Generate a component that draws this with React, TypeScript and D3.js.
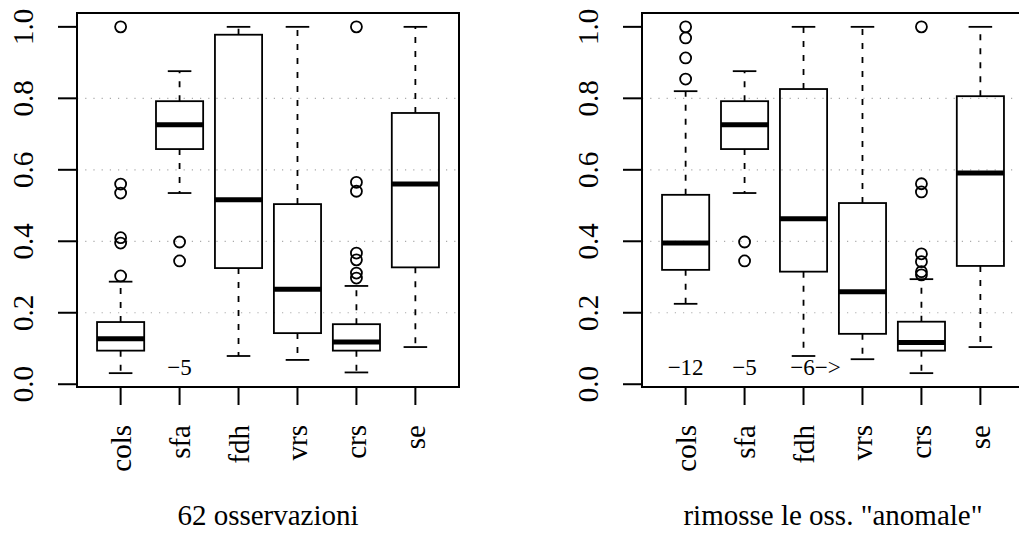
import * as d3 from "d3";

// categorie sull'asse x
const categories = ["cols", "sfa", "fdh", "vrs", "crs", "se"];
const yTicks = [0, 0.2, 0.4, 0.6, 0.8, 1.0];
const gridTicks = [0.2, 0.4, 0.6, 0.8];

// pannello sinistro: 62 osservazioni
const leftLow = [0.031, 0.535, 0.079, 0.068, 0.033, 0.104];
const leftQ1 = [0.094, 0.658, 0.325, 0.143, 0.094, 0.327];
const leftMed = [0.127, 0.726, 0.516, 0.266, 0.118, 0.56];
const leftQ3 = [0.174, 0.792, 0.978, 0.504, 0.168, 0.759];
const leftHigh = [0.287, 0.876, 1.0, 1.0, 0.275, 1.0];
const leftOut = [
  [1.0, 0.56, 0.535, 0.41, 0.395, 0.303],
  [0.398, 0.345],
  [],
  [],
  [1.0, 0.565, 0.54, 0.367, 0.348, 0.311, 0.297],
  [],
];
const leftNotes = [{ cat: "sfa", text: "\u22125", dx: 0 }];

// pannello destro: senza le osservazioni anomale
const rightLow = [0.225, 0.535, 0.079, 0.07, 0.031, 0.104];
const rightQ1 = [0.32, 0.658, 0.315, 0.141, 0.094, 0.331];
const rightMed = [0.395, 0.726, 0.463, 0.259, 0.117, 0.591];
const rightQ3 = [0.53, 0.792, 0.826, 0.507, 0.175, 0.806];
const rightHigh = [0.82, 0.876, 1.0, 1.0, 0.294, 1.0];
const rightOut = [
  [1.0, 0.969, 0.913, 0.854],
  [0.398, 0.345],
  [],
  [],
  [1.0, 0.561, 0.538, 0.365, 0.343, 0.315, 0.306],
  [],
];
const rightNotes = [
  { cat: "cols", text: "\u221212", dx: 0 },
  { cat: "sfa", text: "\u22125", dx: 0 },
  { cat: "fdh", text: "\u22126\u2212>", dx: 12 },
];

const FONT = '"Liberation Serif", "DejaVu Serif", "Times New Roman", Times, serif';

const Panel = ({ left, low, q1, med, q3, high, out, notes, title }) => {
  const top = 13;
  const bottom = 387;
  const w = 382;

  const allVals = [...low, ...high, ...out.flat()];
  const [mn, mx] = d3.extent(allVals);
  const ext = (mx - mn) * 0.04;

  const y = d3.scaleLinear().domain([mn - ext, mx + ext]).range([bottom, top]);
  const x = d3
    .scalePoint()
    .domain(categories)
    .range([left + w * (0.74 / 6.48), left + w * (5.74 / 6.48)]);
  const step = x.step();
  const boxW = step * 0.8;
  const capW = boxW * 0.5;

  return (
    <g>
      {gridTicks.map((t) => (
        <line
          key={"g" + t}
          x1={left}
          x2={left + w}
          y1={y(t)}
          y2={y(t)}
          stroke="#aaa"
          strokeWidth={1.2}
          strokeDasharray="1.2,7"
        />
      ))}
      {categories.map((c, i) => {
        const cx = x(c);
        return (
          <g key={c}>
            <line x1={cx} x2={cx} y1={y(q3[i])} y2={y(high[i])} stroke="#000" strokeWidth={1.8} strokeDasharray="6,8" />
            <line x1={cx} x2={cx} y1={y(q1[i])} y2={y(low[i])} stroke="#000" strokeWidth={1.8} strokeDasharray="6,8" />
            <line x1={cx - capW / 2} x2={cx + capW / 2} y1={y(high[i])} y2={y(high[i])} stroke="#000" strokeWidth={1.8} />
            <line x1={cx - capW / 2} x2={cx + capW / 2} y1={y(low[i])} y2={y(low[i])} stroke="#000" strokeWidth={1.8} />
            <rect
              x={cx - boxW / 2}
              y={y(q3[i])}
              width={boxW}
              height={y(q1[i]) - y(q3[i])}
              fill="none"
              stroke="#000"
              strokeWidth={1.8}
            />
            <line x1={cx - boxW / 2} x2={cx + boxW / 2} y1={y(med[i])} y2={y(med[i])} stroke="#000" strokeWidth={5} />
            {out[i].map((v, k) => (
              <circle key={k} cx={cx} cy={y(v)} r={5.5} fill="none" stroke="#000" strokeWidth={1.8} />
            ))}
          </g>
        );
      })}
      <rect x={left} y={top} width={w} height={bottom - top} fill="none" stroke="#000" strokeWidth={2} />
      {yTicks.map((t) => (
        <g key={"y" + t}>
          <line x1={left - 19} x2={left} y1={y(t)} y2={y(t)} stroke="#000" strokeWidth={2} />
          <text
            transform={`translate(${left - 44},${y(t)}) rotate(-90)`}
            textAnchor="middle"
            style={{ fontFamily: FONT, fontSize: 29 }}
          >
            {t.toFixed(1)}
          </text>
        </g>
      ))}
      {categories.map((c) => (
        <g key={"x" + c}>
          <line x1={x(c)} x2={x(c)} y1={bottom} y2={bottom + 18} stroke="#000" strokeWidth={2} />
          <text
            transform={`translate(${x(c) + 10},${425}) rotate(-90)`}
            textAnchor="end"
            style={{ fontFamily: FONT, fontSize: 29 }}
          >
            {c}
          </text>
        </g>
      ))}
      {notes.map((n) => (
        <text
          key={n.text}
          x={x(n.cat) + n.dx}
          y={375}
          textAnchor="middle"
          style={{ fontFamily: FONT, fontSize: 23 }}
        >
          {n.text}
        </text>
      ))}
      <text x={left + w / 2} y={525} textAnchor="middle" style={{ fontFamily: FONT, fontSize: 29 }}>
        {title}
      </text>
    </g>
  );
};

export default function App() {
  return (
    <svg
      width={1019}
      height={536}
      style={{ position: "absolute", left: 0, top: 0, background: "#fff", fontFamily: FONT }}
    >
      <rect width={1019} height={536} fill="#fff" />
      <Panel
        left={77}
        low={leftLow}
        q1={leftQ1}
        med={leftMed}
        q3={leftQ3}
        high={leftHigh}
        out={leftOut}
        notes={leftNotes}
        title="62 osservazioni"
      />
      <Panel
        left={642}
        low={rightLow}
        q1={rightQ1}
        med={rightMed}
        q3={rightQ3}
        high={rightHigh}
        out={rightOut}
        notes={rightNotes}
        title={'rimosse le oss. "anomale"'}
      />
    </svg>
  );
}
